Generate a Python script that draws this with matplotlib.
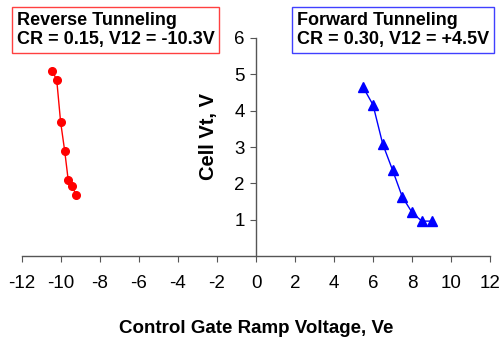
import numpy as np
import matplotlib.pyplot as plt

plt.rcParams['font.family'] = ['Liberation Sans', 'DejaVu Sans']

# reverse tunneling (CR = 0.15)
rev_ve = [-10.45, -10.22, -10.02, -9.81, -9.63, -9.44, -9.22]
rev_vt = [5.09, 4.85, 3.69, 2.89, 2.09, 1.93, 1.68]

# forward tunneling (CR = 0.30)
fwd_ve = [5.5, 6.0, 6.5, 7.0, 7.5, 8.0, 8.5, 9.0]
fwd_vt = [4.64, 4.16, 3.08, 2.37, 1.63, 1.20, 0.96, 0.96]

x_ticks = list(range(-12, 13, 2))
y_ticks = [1, 2, 3, 4, 5, 6]


def main():
    fig = plt.figure(figsize=(5.03, 3.39), dpi=100)
    ax = fig.add_axes([22 / 503, 83 / 339, 468 / 503, 218 / 339])

    ax.plot(rev_ve, rev_vt, '-o', color='#ff0000', lw=1, ms=5.5, clip_on=False)
    ax.plot(fwd_ve, fwd_vt, '-^', color='#0000ff', lw=1, ms=6.5, clip_on=False)

    ax.set_xlim(-12, 12)
    ax.set_ylim(0, 6)
    ax.spines['left'].set_position(('data', 0))
    ax.spines['bottom'].set_position(('data', 0))
    ax.spines['top'].set_visible(False)
    ax.spines['right'].set_visible(False)
    for s in ('left', 'bottom'):
        ax.spines[s].set_color('#555555')
        ax.spines[s].set_linewidth(1)

    ax.set_xticks(x_ticks)
    ax.set_xticklabels([str(v) for v in x_ticks])
    ax.set_yticks(y_ticks)
    ax.set_yticklabels([str(v) for v in y_ticks])
    ax.tick_params(axis='both', direction='out', length=4, color='#555555',
                   labelsize=13.5)
    ax.tick_params(axis='x', pad=10)
    ax.tick_params(axis='y', pad=4)

    ax.set_xlabel('Control Gate Ramp Voltage, Ve', fontsize=13.5,
                  fontweight='bold', labelpad=20)
    ax.set_ylabel('Cell Vt, V', fontsize=14.5, fontweight='bold')
    ax.yaxis.set_label_coords(0.418, 0.55)

    fig.text(17 / 503, 1 - 30 / 339, 'Reverse Tunneling\nCR = 0.15, V12 = -10.3V',
             fontsize=13, fontweight='bold', va='center', linespacing=1.2,
             ha='left',
             bbox=dict(boxstyle='square,pad=0.25', fc='white', ec='#ff4040', lw=1))
    fig.text(297 / 503, 1 - 30 / 339, 'Forward Tunneling\nCR = 0.30, V12 = +4.5V',
             fontsize=13, fontweight='bold', va='center', linespacing=1.2,
             ha='left',
             bbox=dict(boxstyle='square,pad=0.25', fc='white', ec='#4040ff', lw=1))

    fig.savefig('out.png', dpi=100)


if __name__ == '__main__':
    main()
